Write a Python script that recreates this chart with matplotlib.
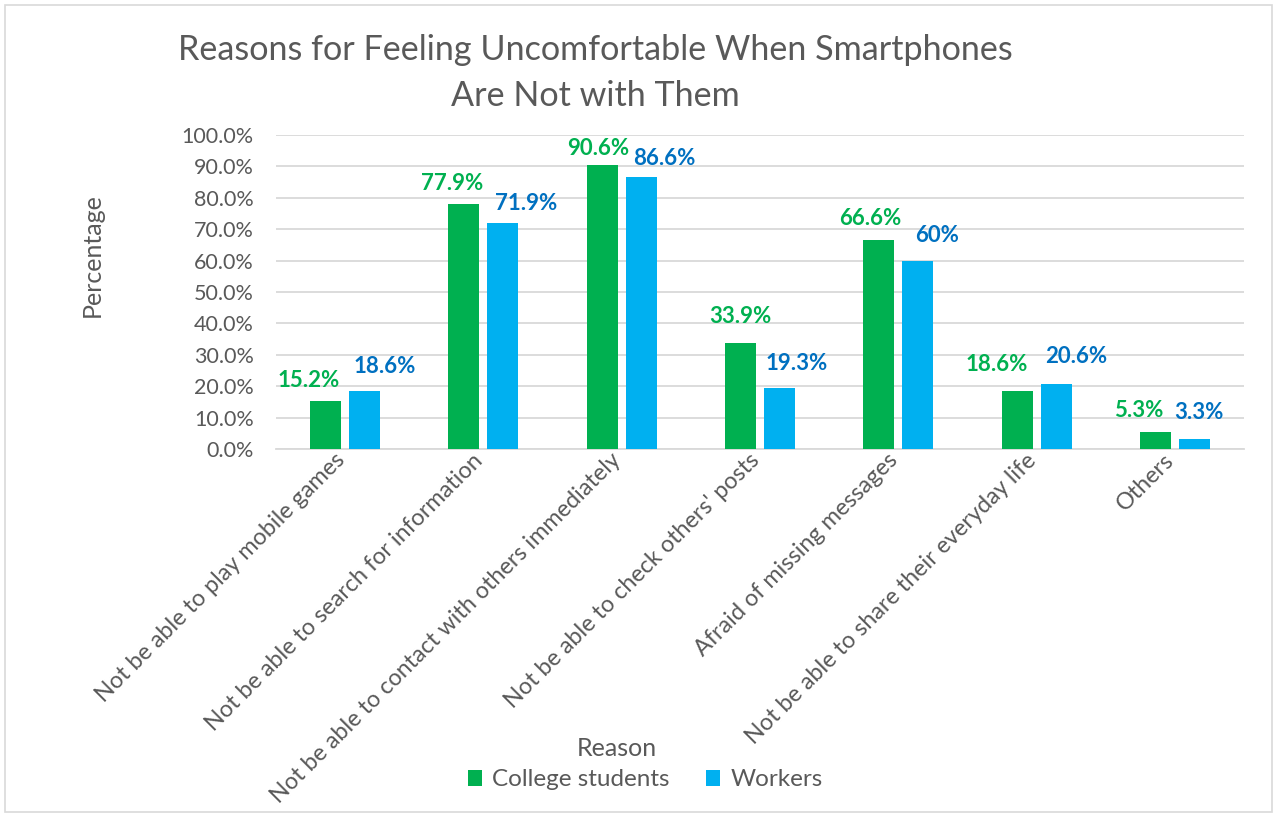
import matplotlib.pyplot as plt
import matplotlib.patches as mpatches
import matplotlib.transforms as mtrans
import numpy as np

plt.rcParams['font.family'] = ['Lato', 'DejaVu Sans']

# data
reasons = ["Not be able to play mobile games",
           "Not be able to search for information",
           "Not be able to contact with others immediately",
           "Not be able to check others' posts",
           "Afraid of missing messages",
           "Not be able to share their everyday life",
           "Others"]
students = [15.2, 77.9, 90.6, 33.9, 66.6, 18.6, 5.3]
workers = [18.6, 71.9, 86.6, 19.3, 60.0, 20.6, 3.3]
yticks = np.arange(0, 101, 10)

# label nudges in pixels (dx, dy) from the top of each bar
stu_off = [(-17, 21), (-12, 21), (-4, 16), (0, 26), (-9, 21), (-20, 26), (-17, 22)]
wrk_off = [(20, 24), (23, 20), (23, 19), (17, 25), (19, 25), (20, 28), (5, 26)]

green = '#00B050'
blue = '#00B0F0'
grey = '#595959'

fig = plt.figure(figsize=(12.77, 8.17), dpi=100)
ax = fig.add_axes([276/1277, 1 - 449/817, (1244-276)/1277, (449-135)/817])

x = np.arange(len(reasons))
w = 0.224
b1 = ax.bar(x - 0.141, students, w, color=green, label='College students', zorder=3)
b2 = ax.bar(x + 0.141, workers, w, color=blue, label='Workers', zorder=3)

for bars, vals, offs, c in [(b1, students, stu_off, green), (b2, workers, wrk_off, '#0070C0')]:
    for r, v, (dx, dy) in zip(bars, vals, offs):
        ax.annotate(f"{v:g}%", (r.get_x() + r.get_width()/2, v),
                    xytext=(dx, dy), textcoords='offset pixels',
                    ha='center', va='center', color=c,
                    fontsize=16, fontweight='bold')

ax.set_ylim(0, 100)
ax.set_xlim(-0.5, len(reasons) - 0.5)
ax.set_yticks(yticks)
ax.set_yticklabels([f"{t:.1f}%" for t in yticks], fontsize=15.5, color=grey)

# slanted category labels, drawn as text just under the axis line
ax.set_xticks(x)
ax.set_xticklabels([])
lab_tr = ax.get_xaxis_transform() + mtrans.ScaledTranslation(-4/100, -8/100, fig.dpi_scale_trans)
for xi, name in zip(x, reasons):
    ax.text(xi, 0, name, transform=lab_tr, rotation=45, ha='right', va='center',
            rotation_mode='anchor', fontsize=16.8, color=grey)

ax.tick_params(axis='both', length=0)
ax.tick_params(axis='y', pad=16)
ax.grid(axis='y', color='#D9D9D9', linewidth=1.3, zorder=0)
for s in ['top', 'right', 'left']:
    ax.spines[s].set_visible(False)
ax.spines['bottom'].set_color('#D9D9D9')
ax.spines['bottom'].set_linewidth(1.3)

fig.text(595/1277, 1 - 50/817, "Reasons for Feeling Uncomfortable When Smartphones",
         ha='center', va='center', fontsize=24.6, color=grey)
fig.text(595/1277, 1 - 96/817, "Are Not with Them",
         ha='center', va='center', fontsize=24.6, color=grey)
fig.text(92/1277, 1 - 255/817, "Percentage", rotation=90,
         ha='center', va='center', fontsize=18, color=grey)
fig.text(617/1277, 1 - 748/817, "Reason", ha='center', va='center',
         fontsize=18, color=grey)

fig.legend(handles=[b1, b2], loc='center', bbox_to_anchor=(645/1277, 1 - 780/817),
           ncol=2, frameon=False, fontsize=17.5, labelcolor=grey,
           handlelength=0.6, handleheight=0.6, columnspacing=1.5, handletextpad=0.4)

# chart frame
fig.patches.append(mpatches.Rectangle((5/1277, 5/817), 1267/1277, 807/817,
                                      transform=fig.transFigure, fill=False,
                                      edgecolor='#D9D9D9', linewidth=1.2))

fig.savefig('out.png', dpi=100)
